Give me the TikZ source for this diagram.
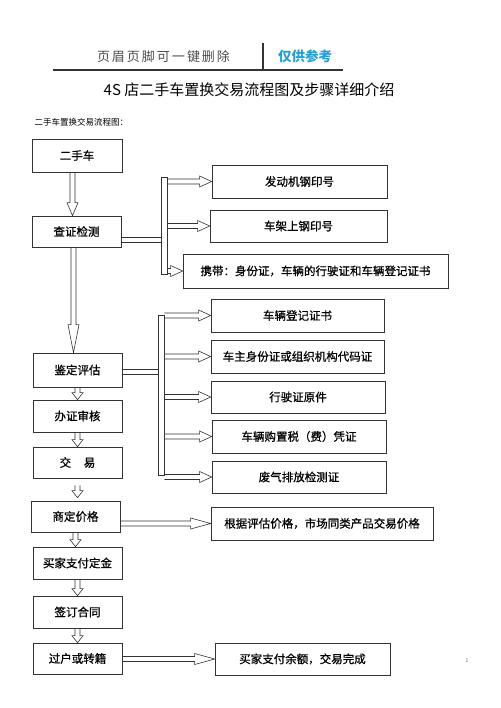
\documentclass[tikz,border=0pt]{standalone}
\usepackage{fontspec}
\setmainfont{Noto Sans CJK SC}
\newfontfamily\boxfont[FakeBold=0.8]{Noto Sans CJK SC}
\usetikzlibrary{calc,positioning}
\definecolor{refblue}{RGB}{38,158,208}

% hollow block arrow to the right: head length, from, to
\newcommand{\rarrow}[3]{%
  \draw[hollow] ($(#2)+(0,2.5)$) -- ($(#3)+(-#1,2.5)$) -- ($(#3)+(-#1,5.5)$) -- (#3)
    -- ($(#3)+(-#1,-5.5)$) -- ($(#3)+(-#1,-2.5)$) -- ($(#2)+(0,-2.5)$);}
% hollow block arrow downwards: head length, from, to
\newcommand{\darrow}[3]{%
  \draw[hollow] ($(#2)+(-2.5,0)$) -- ($(#3)+(-2.5,#1)$) -- ($(#3)+(-5.5,#1)$) -- (#3)
    -- ($(#3)+(5.5,#1)$) -- ($(#3)+(2.5,#1)$) -- ($(#2)+(2.5,0)$);}

\begin{document}
\begin{tikzpicture}[x=1pt, y=1pt,
  box/.style = {draw=black!80, line width=0.7pt, minimum height=32pt, inner sep=0pt, font=\boxfont\fontsize{11.5}{13}\selectfont},
  bar/.style = {draw=black!80, line width=0.6pt, minimum width=6pt, inner sep=0pt},
  hollow/.style = {draw=black!80, line width=0.6pt, line join=miter}]
\useasboundingbox (0,0) rectangle (500,-708);

% header
\node[text=black!70, font=\fontsize{13}{15}\selectfont] (hdr) at (163.5,-57) {页\hspace{2pt}眉\hspace{2pt}页\hspace{2pt}脚\hspace{2pt}可\hspace{2pt}一\hspace{2pt}键\hspace{2pt}删\hspace{2pt}除};
\node[text=refblue, font=\fontsize{13.5}{15}\selectfont\bfseries] (ref) at (305,-56) {仅供参考};
\draw[line width=1.2pt, black!80] (53,-70) -- (343,-70);
\draw[line width=1.2pt, black!80] (263,-43) -- (263,-70);

\node[font=\fontsize{15}{17}\selectfont] (title) at (249,-90) {4S 店二手车置换交易流程图及步骤详细介绍};
\node[anchor=west, font=\fontsize{8.5}{10}\selectfont] (sub) at (31,-122) {二手车置换交易流程图：};

% left column
\node[box, minimum width=90pt, minimum height=33pt] (ershou) at (77,-155.5) {二手车};
\node[box, minimum width=89pt, minimum height=31pt] (chazheng) at (76.5,-231.5) {查证检测};
\node[box, minimum width=89pt, minimum height=34pt] (jianding) at (77.5,-370) {鉴定评估};
\node[box, minimum width=89pt] (banzheng) at (77.5,-416) {办证审核};
\node[box, minimum width=89pt, minimum height=31pt] (jiaoyi) at (77.5,-462.5) {交\hspace{1.1em}易};
\node[box, minimum width=89pt, minimum height=31pt] (shangding) at (75.5,-516.5) {商定价格};
\node[box, minimum width=89pt] (dingjin) at (77.5,-563) {买家支付定金};
\node[box, minimum width=89pt] (hetong) at (77.5,-612) {签订合同};
\node[box, minimum width=89pt, minimum height=31pt] (guohu) at (77.5,-658.5) {过户或转籍};

% right column
\node[box, minimum width=175pt, minimum height=33pt] (fadongji) at (299.5,-181.5) {发动机钢印号};
\node[box, minimum width=177pt] (chejia) at (298.5,-226) {车架上钢印号};
\node[box, minimum width=265pt, minimum height=34pt] (xiedai) at (315.5,-271) {携带：身份证，车辆的行驶证和车辆登记证书};
\node[box, minimum width=173pt, minimum height=33pt] (dengji) at (297.5,-315.5) {车辆登记证书};
\node[box, minimum width=173pt, minimum height=33pt] (chezhu) at (297.5,-356.5) {车主身份证或组织机构代码证};
\node[box, minimum width=174pt] (xingshi) at (298,-397) {行驶证原件};
\node[box, minimum width=174pt, minimum height=33pt] (gouzhi) at (299,-436.5) {车辆购置税（费）凭证};
\node[box, minimum width=174pt] (feiqi) at (299,-477) {废气排放检测证};
\node[box, minimum width=222pt, minimum height=33pt] (genju) at (322,-523.5) {根据评估价格，市场同类产品交易价格};
\node[box, minimum width=175pt] (yue) at (302.5,-659) {买家支付余额，交易完成};

\node[bar, minimum height=97pt] (bar1) at (164,-225.5) {};
\node[bar, minimum height=160pt] (bar2) at (161,-395) {};
\node[text=black!60, font=\fontsize{5}{6}\selectfont] (pg) at (467,-661) {1};

% branches
\coordinate (c1) at ($(chazheng.east)+(0,-8)$);
\draw[hollow] ($(c1)+(0,2.5)$) -- ($(bar1.west |- c1)+(0,2.5)$) ($(c1)+(0,-2.5)$) -- ($(bar1.west |- c1)+(0,-2.5)$);
\draw[hollow] ($(jianding.east)+(0,0.5)$) -- ($(bar2.west |- jianding.east)+(0,0.5)$) ($(jianding.east)+(0,-4.5)$) -- ($(bar2.west |- jianding.east)+(0,-4.5)$);
\foreach \nx in {fadongji, chejia, xiedai}
  \rarrow{12}{bar1.east |- \nx.west}{\nx.west};
\foreach \nx in {dengji, chezhu, xingshi, gouzhi, feiqi}
  \rarrow{12}{bar2.east |- \nx.west}{\nx.west};
\rarrow{20}{shangding.east |- genju.west}{genju.west};
\rarrow{20}{guohu.east |- yue.west}{yue.west};

% main flow
\coordinate (v1) at ($(ershou.south)+(-4.5,0)$);
\darrow{13}{v1}{v1 |- chazheng.north};
\coordinate (v2) at ($(chazheng.south)+(-3,0)$);
\darrow{28}{v2}{v2 |- jianding.north};
\foreach \mx/\nx in {jianding/banzheng, banzheng/jiaoyi, shangding/dingjin, dingjin/hetong, hetong/guohu}
  \darrow{7}{\mx.south}{\mx.south |- \nx.north};
\coordinate (v3) at ($(jiaoyi.south)+(0,-7)$);
\coordinate (v4) at ($(v3 |- shangding.north)+(0,3)$);
\darrow{7}{v3}{v4};
\end{tikzpicture}
\end{document}
